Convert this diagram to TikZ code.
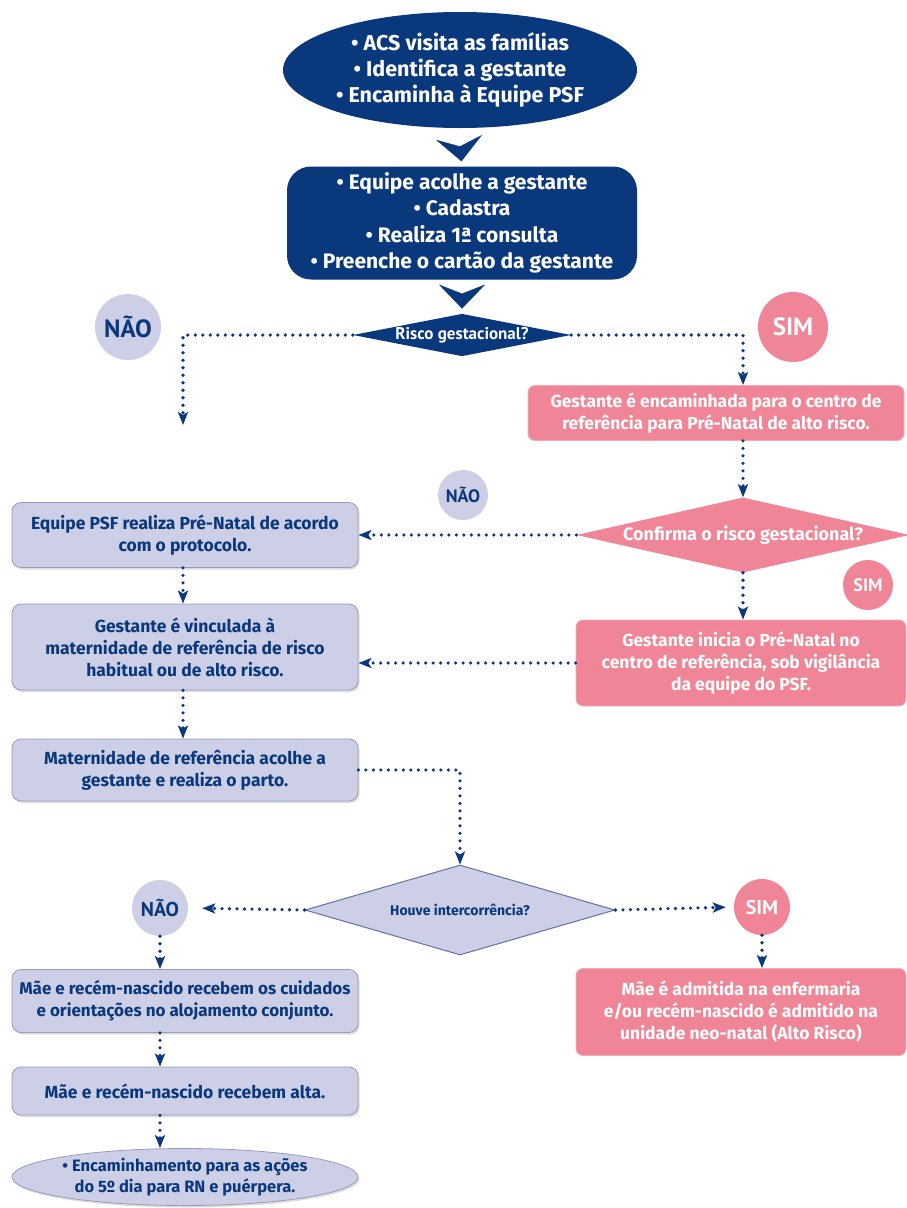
\documentclass[tikz,border=0pt]{standalone}
\usepackage{fontspec}
\setmainfont{Fira Sans}
\newfontfamily\cond{PT Sans}
\usetikzlibrary{shapes.geometric,arrows.meta,shadows}
\definecolor{navy}{RGB}{10,56,124}
\definecolor{lav}{RGB}{204,207,229}
\definecolor{lavline}{RGB}{150,156,190}
\definecolor{pink}{RGB}{239,133,150}
\definecolor{pinkline}{RGB}{244,170,182}
\tikzset{
  darkel/.style={ellipse,fill=navy,text=white,inner sep=0pt,font=\fontsize{21.5}{26}\selectfont\bfseries,align=center},
  darkbox/.style={rectangle,rounded corners=24pt,fill=navy,text=white,inner sep=0pt,font=\fontsize{21}{26.5}\selectfont\bfseries,align=center},
  shad/.style={drop shadow={shadow xshift=1.5pt,shadow yshift=-2pt,fill=black!22,opacity=0.6}},
  lavbox/.style={rectangle,rounded corners=9pt,fill=lav,draw=lavline,line width=0.8pt,text=navy,inner sep=0pt,font=\fontsize{17.5}{22}\selectfont\bfseries,align=center,shad},
  pinkbox/.style={rectangle,rounded corners=7pt,fill=pink,draw=pinkline,line width=0.8pt,text=white,inner sep=0pt,font=\fontsize{17.5}{22}\selectfont\bfseries,align=center},
  lavel/.style={ellipse,fill=lav,draw=lavline,line width=0.8pt,text=navy,inner xsep=-30pt,inner ysep=-6pt,font=\fontsize{16.5}{21}\selectfont\bfseries,align=center,shad},
  dia/.style={diamond,inner sep=0pt,aspect=5,align=center},
  navcirc/.style={circle,fill=lav,text=navy,inner sep=0pt},
  pinkcirc/.style={circle,fill=pink,text=white,inner sep=0pt},
  chev/.style={draw=navy,fill=navy,line width=0.2pt,-{Stealth[length=24pt,width=46pt,inset=9pt]},shorten >=5pt},
  dotarrow/.style={draw=navy,line width=3.6pt,line cap=round,dash pattern=on 0pt off 7.5pt,-{Stealth[length=13pt,width=10pt,inset=3pt]}},
}
\begin{document}
\begin{tikzpicture}[x=1pt,y=-1pt]
\useasboundingbox[fill=white] (0,0) rectangle (906,1208);
% top part
\node[darkel,minimum width=354pt,minimum height=116pt] (e1) at (460,70)
  {• ACS visita as famílias\\ • Identifica a gestante\\ • Encaminha à Equipe PSF};
\node[darkbox,minimum width=350pt,minimum height=113pt] (b2) at (462,223)
  {• Equipe acolhe a gestante\\ • Cadastra\\ • Realiza 1ª consulta\\ • Preenche o cartão da gestante};
\node[dia,fill=navy,text=white,minimum width=218pt,minimum height=38pt,font=\cond\fontsize{17}{18}\selectfont\bfseries] (d1) at (462,335) {Risco gestacional?};
\node[navcirc,minimum size=66pt,font=\cond\fontsize{25}{25}\selectfont\bfseries] (nao1) at (128,327) {NÃO};
\node[pinkcirc,minimum size=70pt,font=\cond\fontsize{25}{25}\selectfont\bfseries] (sim1) at (793,327) {SIM};
% right column
\node[pinkbox,minimum width=376pt,minimum height=55pt] (p1) at (716,413)
  {Gestante é encaminhada para o centro de\\ referência para Pré-Natal de alto risco.};
\node[dia,fill=pink,text=white,minimum width=326pt,minimum height=75pt,font=\fontsize{18}{20}\selectfont\bfseries] (d2) at (743,535) {Confirma o risco gestacional?};
\node[navcirc,minimum size=50pt,font=\cond\fontsize{18}{18}\selectfont\bfseries] (nao2) at (463,495) {NÃO};
\node[pinkcirc,minimum size=50pt,font=\cond\fontsize{18}{18}\selectfont\bfseries] (sim2) at (868,585) {SIM};
\node[pinkbox,minimum width=330pt,minimum height=86pt] (p2) at (741,663)
  {Gestante inicia o Pré-Natal no\\ centro de referência, sob vigilância\\ da equipe do PSF.};
% left column
\node[lavbox,minimum width=346pt,minimum height=65pt] (bA) at (185,535)
  {Equipe PSF realiza Pré-Natal de acordo\\ com o protocolo.};
\node[lavbox,minimum width=346pt,minimum height=86pt] (bB) at (185,647)
  {Gestante é vinculada à\\ maternidade de referência de risco\\ habitual ou de alto risco.};
\node[lavbox,minimum width=346pt,minimum height=62pt] (bC) at (185,770)
  {Maternidade de referência acolhe a\\ gestante e realiza o parto.};
\node[dia,fill=lav,draw=lavline!60!navy,line width=1pt,text=navy,minimum width=310pt,minimum height=90pt,font=\fontsize{14}{16}\selectfont\bfseries] (d3) at (460,910) {Houve intercorrência?};
\node[navcirc,minimum size=56pt,font=\cond\fontsize{20}{20}\selectfont\bfseries] (nao3) at (160,908) {NÃO};
\node[pinkcirc,minimum size=56pt,font=\cond\fontsize{20}{20}\selectfont\bfseries] (sim3) at (762,907) {SIM};
\node[lavbox,minimum width=346pt,minimum height=63pt,font=\fontsize{17}{22}\selectfont\bfseries] (bD) at (185,1001)
  {Mãe e recém-nascido recebem os cuidados\\ e orientações no alojamento conjunto.};
\node[lavbox,minimum width=346pt,minimum height=48pt] (bE) at (185,1091)
  {Mãe e recém-nascido recebem alta.};
\node[lavel,minimum width=346pt,minimum height=57pt] (eF) at (185,1177)
  {• Encaminhamento para as ações\\ do 5º dia para RN e puérpera.};
\node[pinkbox,minimum width=330pt,minimum height=87pt] (p3) at (741,1012)
  {Mãe é admitida na enfermaria\\ e/ou recém-nascido é admitido na\\ unidade neo-natal (Alto Risco)};
\coordinate (c1) at (183,425);
% connectors
\draw[chev] ([yshift=-19pt]e1.south) -- (b2.north);
\draw[chev] ([yshift=-16pt]b2.south) -- (d1.north);
\draw[dotarrow] (d1.west) -| (c1);
\draw[dotarrow] (d1.east) -| (d2.north |- p1.north);
\draw[dotarrow] (d2.north |- p1.south) -- (d2.north);
\draw[dotarrow] (d2.west) -- (bA.east);
\draw[dotarrow] (d2.south) -- (d2.south |- p2.north);
\draw[dotarrow] (p2.west) -- (p2.west -| bB.east);
\draw[dotarrow] (bA.south -| c1) -- (bB.north -| c1);
\draw[dotarrow] (bB.south -| c1) -- (bC.north -| c1);
\draw[dotarrow] (bC.east) -| (d3.north);
\draw[dotarrow,shorten >=14pt] (d3.west) -- (nao3.east);
\draw[dotarrow,shorten >=8pt] (d3.east) -- (sim3.west);
\draw[dotarrow] (nao3.south) -- (nao3.south |- bD.north);
\draw[dotarrow] (nao3.south |- bD.south) -- (nao3.south |- bE.north);
\draw[dotarrow] (nao3.south |- bE.south) -- (nao3.south |- eF.north);
\draw[dotarrow] (sim3.south) -- (sim3.south |- p3.north);
\end{tikzpicture}
\end{document}
